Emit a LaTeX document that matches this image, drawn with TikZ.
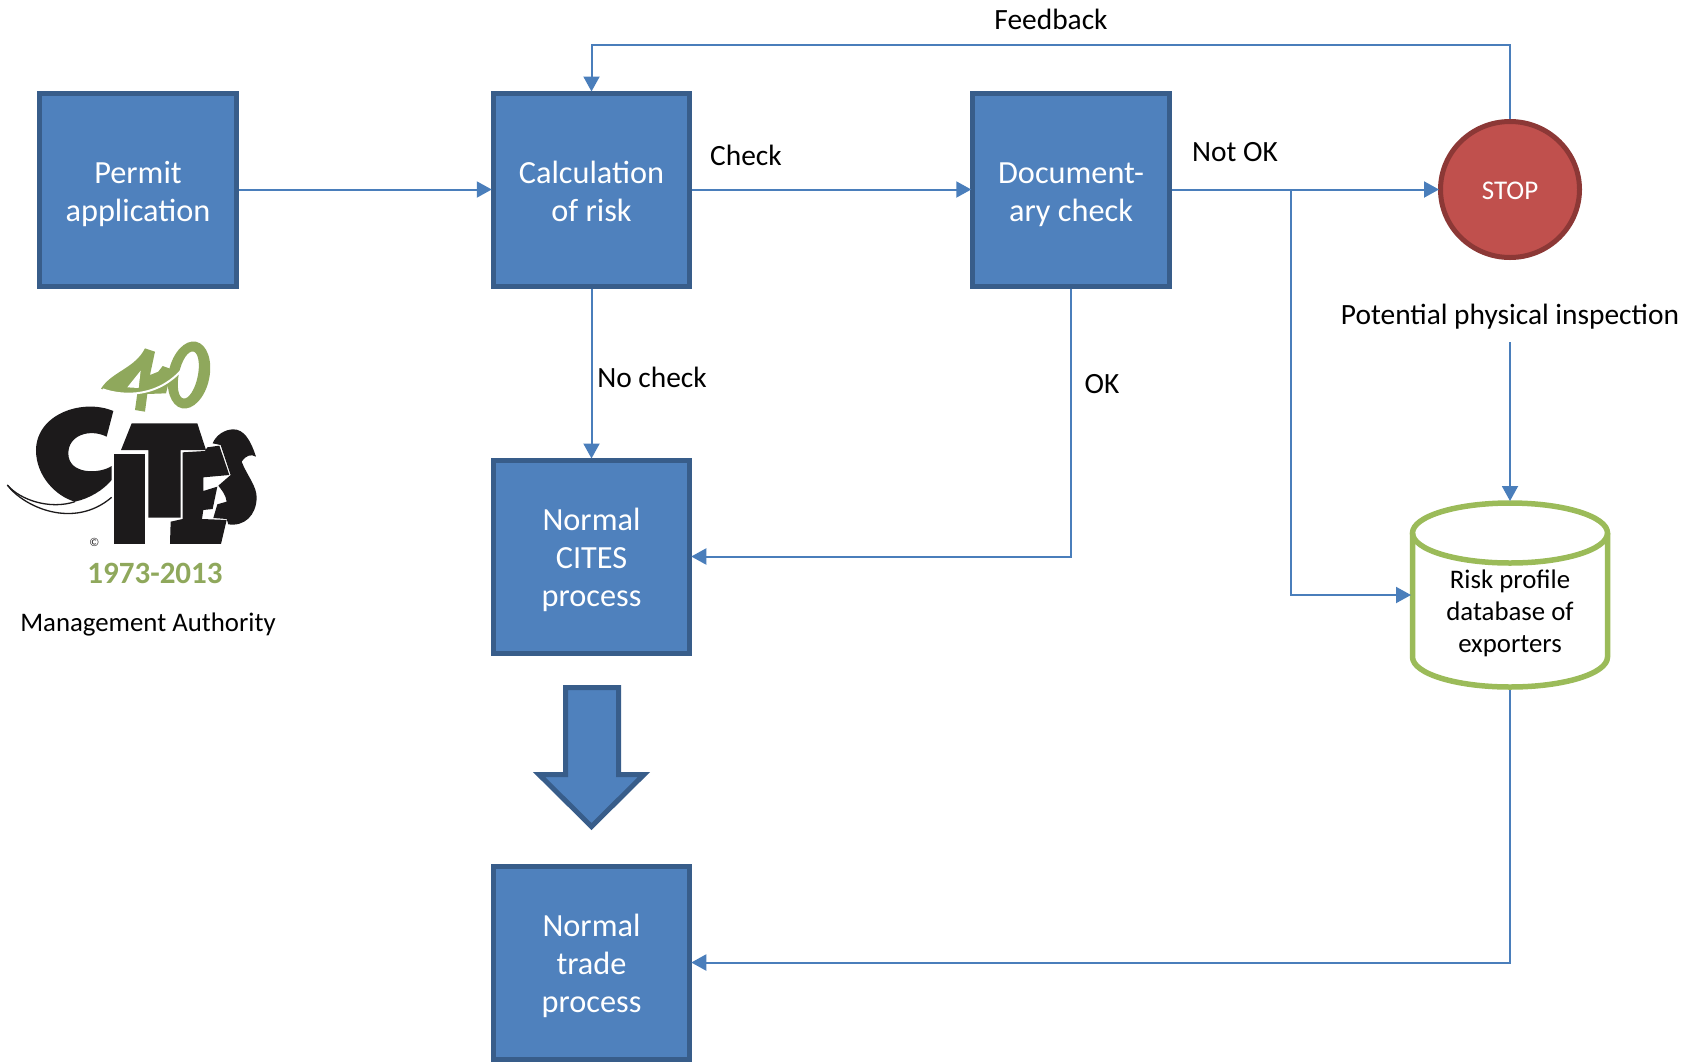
\documentclass[tikz,border=0pt]{standalone}
\usepackage{fontspec}
\setmainfont{Carlito}
\usetikzlibrary{arrows.meta,shapes.geometric,calc}
\definecolor{boxfill}{HTML}{4F81BD}
\definecolor{boxedge}{HTML}{385D8A}
\definecolor{stopfill}{HTML}{C0504D}
\definecolor{stopedge}{HTML}{8C3836}
\definecolor{dbgreen}{HTML}{9BBB59}
\definecolor{linkblue}{HTML}{4A7EBB}
\definecolor{logogreen}{HTML}{8FA85C}
\definecolor{logoblack}{HTML}{1C1A1B}
\newcommand{\toptwo}{\rule{0pt}{37pt}}
\newcommand{\topthree}{\rule{0pt}{35.5pt}}
\tikzset{
  stepbox/.style={draw=boxedge,fill=boxfill,line width=5pt,minimum width=196.5pt,minimum height=193pt,
    inner sep=0pt,align=center,text=white,font=\fontsize{32.3}{38.3}\selectfont},
  link/.style={draw=linkblue,line width=2pt,shorten >=-1pt,-{Triangle[length=15pt,width=16pt]}},
  lab/.style={inner sep=0pt,text=black,font=\fontsize{29.4}{35}\selectfont},
}
\begin{document}
\begin{tikzpicture}[x=1pt,y=-1pt]
\useasboundingbox (0,0) rectangle (1700,1061);
% boxes
\node[stepbox] (permit) at (138,189.5) {\toptwo Permit\\application\strut};
\node[stepbox] (calc) at (591.5,189.5) {\toptwo Calculation\\of risk\strut};
\node[stepbox] (doc) at (1071,189.5) {\toptwo Document-\\ary check\strut};
\node[stepbox] (cites) at (591.5,556.5) {\topthree Normal\\CITES\\process\strut};
\node[stepbox] (trade) at (591.5,962.5) {\topthree Normal\\trade\\process\strut};
\node[ellipse,draw=stopedge,fill=stopfill,line width=5pt,minimum width=139pt,minimum height=136pt,inner sep=0pt,
  text=white,font=\fontsize{27}{32}\selectfont] (stop) at (1510,189.5) {\rule{0pt}{21pt}STOP};
% big arrow
\draw[draw=boxedge,fill=boxfill,line width=5pt,miter limit=10]
  (565.5,687.5) -- (618.5,687.5) -- (618.5,774.5) -- (644,774.5) -- (591.5,826.5) -- (539,774.5) -- (565.5,774.5) -- cycle;
% database
\node[minimum width=200pt,minimum height=190pt,inner sep=0pt,outer sep=0pt] (db) at (1510,595) {};
\draw[draw=dbgreen,line width=5.5pt,line join=round]
  (1412.5,533) -- (1412.5,657) arc[start angle=180,end angle=360,x radius=97.5pt,y radius=30pt] -- (1607.5,533);
\draw[draw=dbgreen,line width=5.5pt]
  (1510,533) circle[x radius=97.5pt,y radius=30pt];
\node[inner sep=0pt,align=center,font=\fontsize{26.8}{32}\selectfont] (dbtext) at (1510,614.5) {\strut Risk profile\\database of\\exporters\strut};
% labels
\node[lab] (lfeed) at (1051,19) {Feedback};
\node[lab] (lcheck) at (746,155) {Check};
\node[lab] (lnotok) at (1235,152) {Not OK};
\node[lab] (lok) at (1102,384) {OK};
\node[lab] (lnocheck) at (652,377) {No check};
\node[lab] (lpot) at (1510,317) {Potential physical inspection};
\node[inner sep=0pt,font=\fontsize{26.8}{32}\selectfont] (lma) at (148,624) {Management Authority};
% connectors
\coordinate (feedr) at (1510,44.5);
\coordinate (feedl) at (591.5,44.5);
\coordinate (branch) at (1291,189.5);
\coordinate (branchd) at (1291,595);
\coordinate (potout) at (1510,342);
\coordinate (okdown) at (1071,556.5);
\coordinate (dbdown) at (1510,962.5);
\draw[link] (permit) -- (calc);
\draw[link] (calc) -- (doc);
\draw[link] (doc) -- (stop);
\draw[link] (calc) -- (cites);
\draw[link] (doc.south) -- (okdown) -- (cites.east);
\draw[link] (stop.north) -- (feedr) -- (feedl) -- (calc.north);
\draw[link] (branch) -- (branchd) -- (db.west);
\draw[link] (potout) -- (db.north);
\draw[link] (db.south) -- (dbdown) -- (trade.east);
% logo: 40
\begin{scope}[shift={(90,330)},x=0.3333pt,y=-0.3333pt]
  \fill[logogreen] (33,176) .. controls (65,125) and (135,115) .. (165,55) -- (195,65)
     -- (180,135) -- (205,125) -- (218,108) -- (246,118) -- (228,190) -- (172,192) -- (165,245) -- (135,240) -- (142,190)
     .. controls (100,190) and (60,190) .. (33,176) -- cycle;
  \fill[white] (112,172) -- (152,122) -- (146,174) -- cycle;
  \fill[logogreen,even odd rule] (297,135) circle[x radius=20.5pt,y radius=34pt,rotate=-12]
     (295,135) circle[x radius=9.5pt,y radius=24pt,rotate=-12];
  \draw[white,line width=2pt] (38,178) .. controls (100,200) and (210,205) .. (288,105);
\end{scope}
% logo: C and swoosh
\begin{scope}[shift={(0,400)},x=0.3333pt,y=-0.3333pt]
  \fill[logoblack] (340,33) .. controls (250,-5) and (110,40) .. (108,150) .. controls (108,230) and (170,290) .. (225,305)
    .. controls (270,295) and (310,270) .. (335,240) -- (335,198) .. controls (300,222) and (205,225) .. (205,160)
    .. controls (205,105) and (270,85) .. (320,110) -- cycle;
  \draw[logoblack,line width=1.3pt] (22,255) .. controls (60,300) and (150,330) .. (225,305);
  \draw[logoblack,line width=1.3pt] (22,255) .. controls (70,320) and (220,390) .. (335,292);
\end{scope}
\node[inner sep=0pt,text=logoblack,font=\fontsize{12}{14}\selectfont] (logoc) at (94.3,542) {©};
% logo: I T E S
\begin{scope}[shift={(110,415)},x=0.3333pt,y=-0.3333pt]
  \fill[logoblack] (65,25) -- (262,25) -- (288,105) -- (212,105) -- (212,308) -- (115,308) -- (115,105) -- (33,105) -- cycle;
  \fill[logoblack] (12,118) -- (105,118) -- (105,387) -- (12,387) -- cycle;
  \fill[logoblack] (218,112) -- (285,108) -- (292,97) -- (328,92) -- (358,180) -- (280,187) -- (280,228) -- (322,215)
    -- (308,282) -- (280,285) -- (276,312) -- (350,315) -- (333,387) -- (180,387) -- (182,320) -- (218,312) -- cycle;
  \fill[logoblack] (308,85) .. controls (318,60) and (345,43) .. (370,43) .. controls (400,43) and (420,70) .. (438,125)
    .. controls (425,118) and (410,118) .. (395,140) .. controls (410,180) and (442,215) .. (440,250)
    .. controls (438,300) and (405,335) .. (355,328) -- (350,312) -- (310,309) -- (322,268) -- (350,260)
    .. controls (348,240) and (335,225) .. (325,212) -- (362,180) -- (332,90) -- cycle;
\end{scope}
\node[inner sep=0pt,text=logogreen,font=\fontsize{31}{36}\selectfont\bfseries] (logoyear) at (155,573) {1973-2013};
\end{tikzpicture}
\end{document}
